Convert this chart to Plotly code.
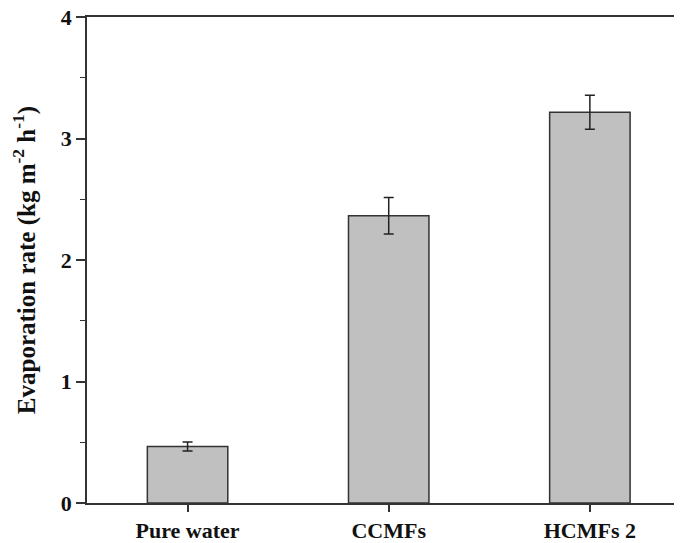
import plotly.graph_objects as go

categories = ["Pure water", "CCMFs", "HCMFs 2"]
values = [0.465, 2.364, 3.216]
errors = [0.037, 0.15, 0.14]
y_ticks = [0, 1, 2, 3, 4]

fig = go.Figure()
fig.add_trace(go.Bar(
    x=categories, y=values,
    width=0.4,
    marker=dict(color="#c0c0c0", line=dict(color="#333333", width=1.5)),
    error_y=dict(type="data", array=errors, visible=True,
                 color="#222222", thickness=1.5, width=5),
))

font_family = "Liberation Serif, Times New Roman, serif"
# page has an 8px body margin; figure sized/margined to compensate
fig.update_layout(
    width=674, height=535,
    margin=dict(l=79, r=0, t=9, b=40),
    plot_bgcolor="white", paper_bgcolor="white",
    showlegend=False,
    font=dict(family=font_family, color="#111111"),
)
fig.update_xaxes(
    range=[-0.5, 2.458],
    automargin=False,
    showline=True, linecolor="#333333", linewidth=1.5, mirror=True,
    ticks="outside", ticklen=7, tickwidth=1.5, tickcolor="#333333",
    ticklabelstandoff=0,
    ticklabeloverflow="allow",
    tickfont=dict(family=font_family, size=22, color="#111111", weight="bold"),
    showgrid=False, zeroline=False,
)
fig.update_yaxes(
    range=[0, 4],
    automargin=False,
    tickvals=y_ticks,
    showline=True, linecolor="#333333", linewidth=1.5, mirror=False,
    ticks="outside", ticklen=9, tickwidth=1.5, tickcolor="#333333",
    ticklabeloverflow="allow",
    minor=dict(dtick=0.5, ticks="outside", ticklen=5, tickwidth=1.2, tickcolor="#333333"),
    tickfont=dict(family=font_family, size=22, color="#111111", weight="bold"),
    title=dict(text="Evaporation rate (kg m<sup>-2</sup> h<sup>-1</sup>)",
               font=dict(family=font_family, size=25, color="#111111", weight="bold"),
               standoff=20),
    showgrid=False, zeroline=False,
)

fig.write_html("out.html")
